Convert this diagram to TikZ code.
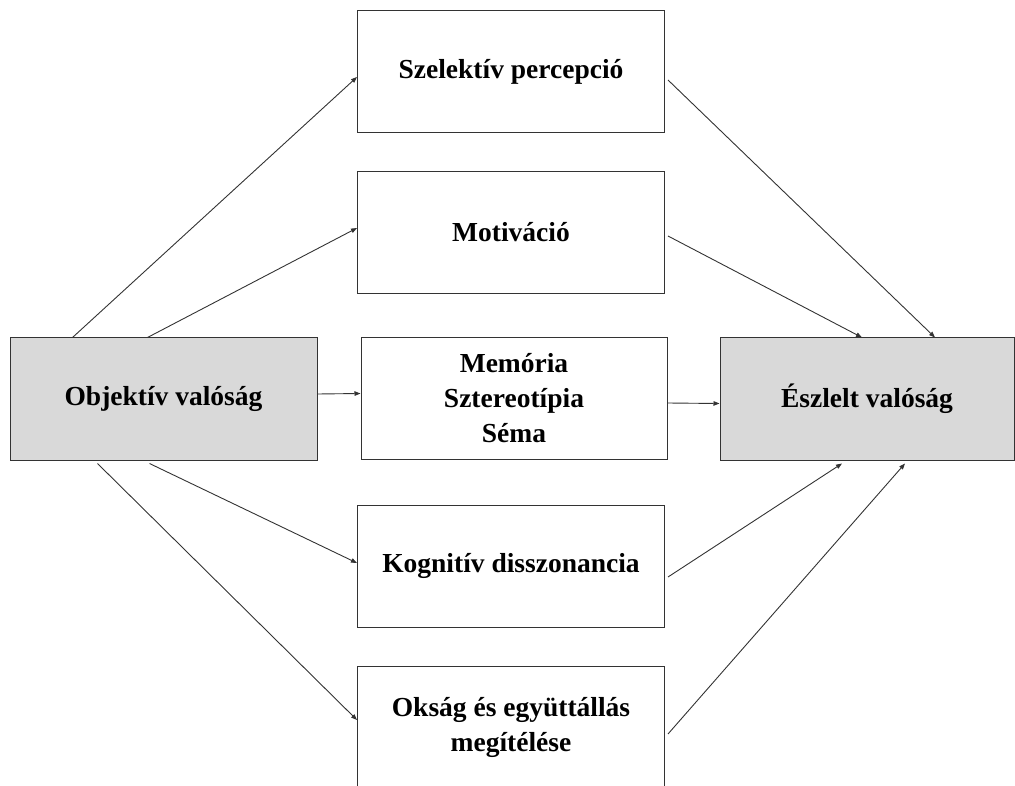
\documentclass[tikz,border=0pt]{standalone}
\usepackage{fontspec}
\setmainfont{Liberation Serif}
\usetikzlibrary{arrows.meta}
\definecolor{boxgray}{HTML}{D9D9D9}
\definecolor{linegray}{HTML}{333333}
\begin{document}
\begin{tikzpicture}[x=1pt,y=-1pt,
  box/.style={draw=linegray, line width=1pt, fill=white, minimum width=307pt,
    minimum height=122pt, inner sep=0pt, align=center,
    font=\fontsize{27.5}{35}\selectfont\bfseries},
  endbox/.style={box, fill=boxgray},
  conn/.style={draw=linegray, line width=0.9pt,
    -{Triangle[length=6pt,width=4.5pt]}}]
\useasboundingbox (0,0) rectangle (1015,786);

% outer boxes
\node[endbox] (obj) at (163.5,399) {Objektív valóság};
\node[endbox, minimum width=294pt] (esz) at (867,399) {Észlelt valóság};

% middle column
\node[box] (sel) at (511,71.5) {Szelektív percepció};
\node[box] (mot) at (511,232.5) {Motiváció};
\node[box, minimum width=306pt] (mem) at (514,398.5) {Memória\\Sztereotípia\\Séma};
\node[box] (kog) at (511,566) {Kognitív disszonancia};
\node[box] (oks) at (511,727) {Okság és együttállás\\megítélése};

% connectors from the objective reality
\draw[conn] ([xshift=63pt]obj.north west) -- ([yshift=-5.5pt]sel.west);
\draw[conn] ([xshift=138pt]obj.north west) -- ([yshift=4.5pt]mot.west);
\draw[conn] ([yshift=5pt]obj.east) -- ([yshift=5pt]mem.west);
\draw[conn] ([xshift=140pt,yshift=-3pt]obj.south west) -- ([yshift=3pt]kog.west);
\draw[conn] ([xshift=88pt,yshift=-3pt]obj.south west) -- ([yshift=7pt]oks.west);

% connectors to the perceived reality
\draw[conn] ([xshift=3pt,yshift=-8.5pt]sel.east) -- ([xshift=68pt]esz.north);
\draw[conn] ([xshift=3pt,yshift=-3.5pt]mot.east) -- ([xshift=-5pt]esz.north);
\draw[conn] ([yshift=-4.5pt]mem.east) -- ([yshift=-4.5pt]esz.west);
\draw[conn] ([xshift=3pt,yshift=-11pt]kog.east) -- ([xshift=-25pt,yshift=-3pt]esz.south);
\draw[conn] ([xshift=3pt,yshift=-7pt]oks.east) -- ([xshift=38pt,yshift=-3pt]esz.south);
\end{tikzpicture}
\end{document}
